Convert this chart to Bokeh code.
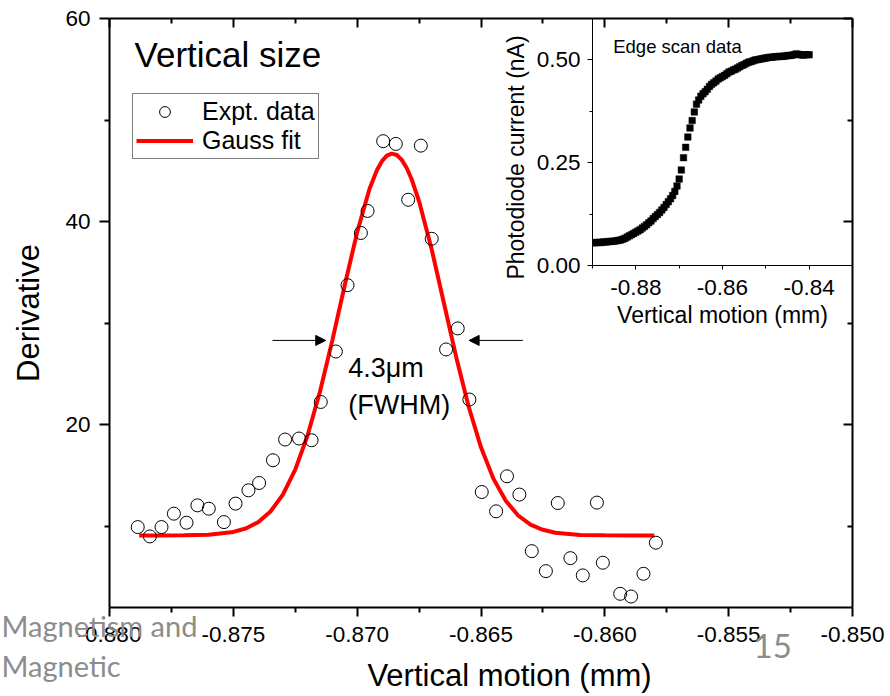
import math
from bokeh.plotting import figure
from bokeh.models import (Range1d, FixedTicker, PrintfTickFormatter, CustomJSTickFormatter,
                          LinearAxis, Legend, LegendItem, Arrow, NormalHead, Label, GridBox)
from bokeh.core.properties import value
from bokeh.embed import file_html
from bokeh.resources import INLINE

FONT = "Liberation Sans"
GREY = "#8c8c8c"

# ---------------- data ----------------
expt_x = [-0.87886, -0.87837, -0.87790, -0.87740, -0.87689, -0.87645, -0.87599, -0.87538,
          -0.87491, -0.87439, -0.87396, -0.87340, -0.87291, -0.87235, -0.87184, -0.87147,
          -0.87086, -0.87039, -0.86985, -0.86958, -0.86895, -0.86844, -0.86794, -0.86743,
          -0.86699, -0.86641, -0.86594, -0.86547, -0.86497, -0.86439, -0.86395, -0.86345,
          -0.86295, -0.86238, -0.86190, -0.86139, -0.86089, -0.86032, -0.86008, -0.85938,
          -0.85894, -0.85844, -0.85794]
expt_y = [9.92, 9.00, 9.92, 11.24, 10.35, 12.06, 11.73, 10.41, 12.23, 13.54, 14.26, 16.50,
          18.54, 18.64, 18.47, 22.24, 27.21, 33.74, 38.88, 41.05, 47.92, 47.65, 42.15, 47.48,
          38.31, 27.41, 29.48, 22.48, 13.37, 11.47, 14.92, 13.12, 7.55, 5.58, 12.29, 6.86,
          5.16, 12.33, 6.41, 3.35, 3.08, 5.32, 8.38]

fit_x = [-0.8788, -0.8780, -0.8770, -0.8760, -0.8750, -0.8745, -0.8740, -0.8735, -0.8730,
         -0.8725, -0.8720, -0.8715, -0.8710, -0.8705, -0.8700, -0.8695, -0.8692, -0.8690,
         -0.8688, -0.8686, -0.8684, -0.8682, -0.8680, -0.8678, -0.8675, -0.8670, -0.8665,
         -0.8660, -0.8655, -0.8650, -0.8645, -0.8640, -0.8635, -0.8630, -0.8625, -0.8620,
         -0.8610, -0.8600, -0.8590, -0.8580]
fit_y = [9.10, 9.10, 9.11, 9.17, 9.44, 9.78, 10.40, 11.45, 13.12, 15.57, 18.96, 23.27,
         28.33, 33.76, 38.95, 43.23, 45.08, 45.95, 46.49, 46.70, 46.56, 46.08, 45.28, 44.17,
         42.00, 37.36, 32.01, 26.65, 21.79, 17.77, 14.69, 12.51, 11.06, 10.16, 9.65, 9.36,
         9.15, 9.11, 9.10, 9.10]

edge_x = [-0.8900, -0.8895, -0.8890, -0.8885, -0.8880, -0.8875, -0.8870, -0.8865, -0.8860,
          -0.8855, -0.8850, -0.8845, -0.8840, -0.8835, -0.8830, -0.8825, -0.8820, -0.8815,
          -0.8810, -0.8805, -0.8800, -0.8795, -0.8790, -0.8785, -0.8780, -0.8775, -0.8770,
          -0.8765, -0.8760, -0.8755, -0.8750, -0.8745, -0.8740, -0.8735, -0.8730, -0.8725,
          -0.8720, -0.8715, -0.8710, -0.8705, -0.8700, -0.8695, -0.8690, -0.8685, -0.8680,
          -0.8675, -0.8670, -0.8665, -0.8660, -0.8655, -0.8650, -0.8645, -0.8640, -0.8635,
          -0.8630, -0.8625, -0.8620, -0.8615, -0.8610, -0.8605, -0.8600, -0.8595, -0.8590,
          -0.8585, -0.8580, -0.8575, -0.8570, -0.8565, -0.8560, -0.8555, -0.8550, -0.8545,
          -0.8540, -0.8535, -0.8530, -0.8525, -0.8520, -0.8515, -0.8510, -0.8505, -0.8500,
          -0.8495, -0.8490, -0.8485, -0.8480, -0.8475, -0.8470, -0.8465, -0.8460, -0.8455,
          -0.8450, -0.8445, -0.8440, -0.8435, -0.8430, -0.8425, -0.8420, -0.8415, -0.8410,
          -0.8405, -0.8400]
edge_y = [0.055, 0.055, 0.056, 0.056, 0.056, 0.057, 0.057, 0.058, 0.058, 0.059, 0.059,
          0.060, 0.061, 0.062, 0.064, 0.066, 0.069, 0.072, 0.075, 0.078, 0.081, 0.084,
          0.087, 0.091, 0.095, 0.099, 0.104, 0.108, 0.114, 0.119, 0.124, 0.129, 0.135,
          0.141, 0.148, 0.155, 0.162, 0.170, 0.180, 0.193, 0.210, 0.232, 0.262, 0.287,
          0.312, 0.334, 0.352, 0.373, 0.392, 0.402, 0.411, 0.417, 0.422, 0.428, 0.435,
          0.440, 0.444, 0.448, 0.453, 0.456, 0.459, 0.462, 0.466, 0.470, 0.472, 0.475,
          0.477, 0.480, 0.483, 0.486, 0.488, 0.491, 0.494, 0.495, 0.497, 0.499, 0.500,
          0.501, 0.502, 0.503, 0.504, 0.505, 0.506, 0.506, 0.507, 0.507, 0.508, 0.508,
          0.508, 0.509, 0.510, 0.510, 0.511, 0.512, 0.514, 0.513, 0.512, 0.511, 0.512,
          0.512, 0.512]

main_xticks = [-0.880, -0.875, -0.870, -0.865, -0.860, -0.855, -0.850]
main_xminor = [-0.8775, -0.8725, -0.8675, -0.8625, -0.8575, -0.8525]
main_yticks = [20, 40, 60]
main_yminor = [10, 30, 50]
inset_xticks = [-0.88, -0.86, -0.84]
inset_xminor = [-0.89, -0.87, -0.85, -0.83]
inset_yticks = [0.00, 0.25, 0.50]
inset_yminor = [0.125, 0.375]


def style_axis(ax, ticks, minor, fmt, lw, size, t_in, t_out, m_in, m_out, standoff,
               show_labels=True):
    ax.ticker = FixedTicker(ticks=ticks, minor_ticks=minor)
    ax.axis_line_width = lw
    ax.axis_line_color = "black"
    ax.major_tick_line_width = lw
    ax.minor_tick_line_width = lw
    ax.major_tick_line_color = "black"
    ax.minor_tick_line_color = "black"
    ax.major_tick_in = t_in
    ax.major_tick_out = t_out
    ax.minor_tick_in = m_in
    ax.minor_tick_out = m_out
    ax.major_label_text_font = FONT
    ax.major_label_text_color = "black"
    ax.axis_label_text_font = FONT
    ax.axis_label_text_font_style = "normal"
    ax.axis_label_text_color = "black"
    if show_labels:
        ax.formatter = PrintfTickFormatter(format=fmt)
        ax.major_label_text_font_size = size
        ax.major_label_standoff = standoff
    else:
        ax.formatter = CustomJSTickFormatter(code="return ''")
        ax.major_label_text_font_size = "8px"
        ax.major_label_standoff = 0


def overlay(w, h):
    f = figure(width=w, height=h, output_backend="svg", toolbar_location=None,
               x_range=Range1d(0, w), y_range=Range1d(0, h),
               x_axis_location=None, y_axis_location=None,
               min_border=0, min_border_left=0, min_border_right=0,
               min_border_top=0, min_border_bottom=0)
    f.grid.visible = False
    f.outline_line_color = None
    f.background_fill_color = None
    f.border_fill_color = None
    return f


# ---------------- main plot ----------------
p = figure(width=890, height=696, output_backend="svg", toolbar_location=None,
           x_range=Range1d(-0.880, -0.850), y_range=Range1d(2, 60),
           min_border_left=109, min_border_right=38, min_border_top=18,
           min_border_bottom=89, y_axis_label="Derivative")
p.grid.visible = False
p.outline_line_color = None
p.background_fill_color = "white"
p.border_fill_color = "white"

style_axis(p.xaxis[0], main_xticks, main_xminor, "%.3f", 2, "22.5px", 0, 9, 0, 5, 10)
style_axis(p.yaxis[0], main_yticks, main_yminor, "%d", 2, "22.5px", 0, 10, 0, 5, 9)
p.yaxis[0].axis_label_text_font_size = "31px"
p.yaxis[0].axis_label_standoff = 16

top_ax = LinearAxis()
right_ax = LinearAxis()
style_axis(top_ax, main_xticks, main_xminor, "%.3f", 2, "8px", 9, 0, 5, 0, 0, False)
style_axis(right_ax, main_yticks, main_yminor, "%d", 2, "8px", 9, 0, 5, 0, 0, False)
p.add_layout(top_ax, "above")
p.add_layout(right_ax, "right")

r_fit = p.line(fit_x, fit_y, line_color="#ff0000", line_width=4)
r_pts = p.scatter(expt_x, expt_y, marker="circle", size=13, fill_color=None,
                  line_color="black", line_width=1)

legend = Legend(items=[LegendItem(label="Expt. data", renderers=[r_pts]),
                       LegendItem(label="Gauss fit", renderers=[r_fit])],
                location=(23, 448), orientation="vertical",
                label_text_font=FONT, label_text_font_size="25px",
                label_text_color="black", glyph_width=57, glyph_height=27,
                label_height=27, label_standoff=9, padding=3, spacing=0, margin=0,
                border_line_color="black", border_line_width=1,
                background_fill_color="white", background_fill_alpha=1)
p.add_layout(legend)

# FWHM arrows
p.add_layout(Arrow(end=NormalHead(size=10, fill_color="black", line_color="black"),
                   x_start=-0.87342, y_start=28.3, x_end=-0.87127, y_end=28.3,
                   line_color="black", line_width=1))
p.add_layout(Arrow(end=NormalHead(size=10, fill_color="black", line_color="black"),
                   x_start=-0.86331, y_start=28.3, x_end=-0.86548, y_end=28.3,
                   line_color="black", line_width=1))

p.add_layout(Label(x=-0.87036, y=25.54, text="4.3\u03bcm", text_font=FONT,
                   text_font_size="27px", text_color="black", text_baseline="alphabetic"))
p.add_layout(Label(x=-0.87036, y=21.98, text="(FWHM)", text_font=FONT,
                   text_font_size="27px", text_color="black", text_baseline="alphabetic"))
p.add_layout(Label(x=-0.87899, y=56.46, text="Vertical size", text_font=FONT,
                   text_font_size="35px", text_color="black", text_baseline="alphabetic"))

# ---------------- inset ----------------
ins = figure(width=410, height=340, output_backend="svg", toolbar_location=None,
             x_range=Range1d(-0.89, -0.83), y_range=Range1d(0, 0.6),
             min_border_left=112, min_border_right=38, min_border_top=18,
             min_border_bottom=75, x_axis_label="Vertical motion (mm)")
ins.grid.visible = False
ins.outline_line_color = None
ins.background_fill_color = None
ins.border_fill_color = None
style_axis(ins.xaxis[0], inset_xticks, inset_xminor, "%.2f", 1, "22.5px", 0, 4, 0, 3, 10)
style_axis(ins.yaxis[0], inset_yticks, inset_yminor, "%.2f", 1, "22.5px", 0, 5, 0, 3, 7)
ins.xaxis[0].axis_label_text_font_size = "23px"
ins.xaxis[0].axis_label_standoff = 4

ins.scatter(edge_x, edge_y, marker="square", size=6.5, fill_color="black",
            line_color="black", line_width=0.5)
ins.add_layout(Label(x=-0.88522, y=0.532, text="Edge scan data", text_font=FONT,
                     text_font_size="18.5px", text_color="black",
                     text_baseline="alphabetic"))

# inset y-axis title (placed as in the reference, below the frame centre)
ylab = overlay(40, 349)
ylab.text(x=[20], y=[193], text=["Photodiode current (nA)"], angle=math.pi / 2,
          text_font=value(FONT), text_font_size="23px", text_color="black",
          text_align="center", text_baseline="middle")

# bottom strip: main x-axis title and slide footer
foot = overlay(888, 96)
foot.text(x=[508], y=[20], text=["Vertical motion (mm)"], text_font=value(FONT),
          text_font_size="31px", text_color="black", text_align="center",
          text_baseline="middle")
foot.text(x=[0, 0], y=[70, 30], text=["Magnetism and", "Magnetic"], text_font=value("Lato"),
          text_font_size="29px", text_color=GREY, text_align="left",
          text_baseline="middle")
foot.text(x=[752], y=[50], text=["15"], text_font=value("Lato"),
          text_font_size="33px", text_color=GREY, text_align="left",
          text_baseline="middle")

# grid lines chosen so that the overlays share no edge with the plots
grid = GridBox(children=[(p, 0, 0, 6, 6), (ins, 0, 2, 2, 4), (ylab, 1, 3, 2, 1),
                         (foot, 4, 1, 1, 4)],
               rows=["1px", "339px", "10px", "249px", "96px", "1px"],
               cols=["1px", "479px", "15px", "40px", "354px", "1px"], spacing=0)

open("out.html", "w").write(file_html(grid, INLINE))
